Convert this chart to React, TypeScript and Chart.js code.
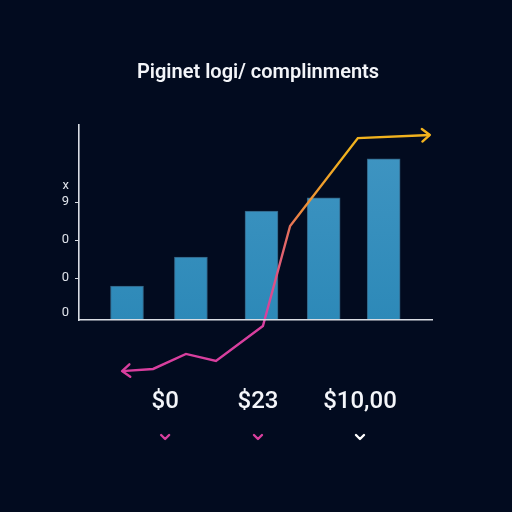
import React, { useEffect, useRef } from "react";
import { Chart, registerables } from "chart.js";

Chart.register(...registerables);

// ---- data ----
const chartTitle = "Piginet logi/ complinments";

const barX = [13.6, 31.7, 51.7, 69.3, 86.3];
const barValues = [17.4, 32.3, 55.9, 62.6, 82.6];

const trendX = [12.2, 21.0, 30.3, 38.8, 52.1, 59.8, 79.0, 99.4];
const trendY = [-26.2, -25.1, -17.4, -21.0, -3.1, 48.2, 93.3, 94.9];

const yTickValues = [3.6, 21.5, 41, 60.5, 68.7];
const yTickLabels = ["0", "0", "0", "9", "x"];

const priceTickValues = [24.4, 50.7, 79.6];
const priceLabels = ["$0", "$23", "$10,00"];

// ---- styles ----
const BG = "#020b1f";
const PINK = "#d83f9e";
const ORANGE = "#ec8a3a";
const GOLD = "#f1b21e";
const AXIS = "#d9dde4";
const chevronColors = [PINK, PINK, "#ffffff"];

const decorations = {
  id: "decorations",
  afterDatasetsDraw(chart: any) {
    const ctx = chart.ctx as CanvasRenderingContext2D;
    const pts = chart.getDatasetMeta(0).data;
    const n = pts.length;

    const head = (tip: any, from: any, color: string) => {
      const ang = Math.atan2(tip.y - from.y, tip.x - from.x);
      const len = 10;
      const spread = 0.68;
      ctx.save();
      ctx.strokeStyle = color;
      ctx.lineWidth = 2.4;
      ctx.lineCap = "round";
      ctx.lineJoin = "round";
      ctx.beginPath();
      ctx.moveTo(tip.x - len * Math.cos(ang - spread), tip.y - len * Math.sin(ang - spread));
      ctx.lineTo(tip.x, tip.y);
      ctx.lineTo(tip.x - len * Math.cos(ang + spread), tip.y - len * Math.sin(ang + spread));
      ctx.stroke();
      ctx.restore();
    };
    head(pts[0], pts[1], PINK);
    head(pts[n - 1], pts[n - 2], GOLD);

    // small chevrons under the price labels
    const xs = chart.scales.x;
    const cy = xs.top + 117;
    priceTickValues.forEach((v, i) => {
      const px = xs.getPixelForValue(v);
      ctx.save();
      ctx.strokeStyle = chevronColors[i];
      ctx.lineWidth = 2.4;
      ctx.lineCap = "round";
      ctx.lineJoin = "round";
      ctx.beginPath();
      ctx.moveTo(px - 4, cy - 2);
      ctx.lineTo(px, cy + 2);
      ctx.lineTo(px + 4, cy - 2);
      ctx.stroke();
      ctx.restore();
    });
  },
};

export default function App() {
  const canvasRef = useRef<HTMLCanvasElement | null>(null);

  useEffect(() => {
    if (!canvasRef.current) return;
    Chart.defaults.font.family = "Roboto, 'Liberation Sans', sans-serif";

    const trendColor = (c: any) => {
      const chart = c.chart;
      const area = chart.chartArea;
      if (!area) return PINK;
      const g = chart.ctx.createLinearGradient(area.left, 0, area.right, 0);
      g.addColorStop(0, PINK);
      g.addColorStop(0.53, PINK);
      g.addColorStop(0.63, ORANGE);
      g.addColorStop(0.75, GOLD);
      g.addColorStop(1, GOLD);
      return g;
    };

    // bars are slightly lighter toward the top
    const barFill = (c: any) => {
      const chart = c.chart;
      const area = chart.chartArea;
      if (!area) return "#3590bf";
      const g = chart.ctx.createLinearGradient(0, area.top, 0, area.bottom);
      g.addColorStop(0, "#4196c3");
      g.addColorStop(1, "#2d89b8");
      return g;
    };

    const chart = new Chart(canvasRef.current, {
      type: "bar",
      data: {
        datasets: [
          {
            type: "line",
            data: trendX.map((x, i) => ({ x, y: trendY[i] })),
            borderColor: trendColor,
            borderWidth: 2.4,
            pointRadius: 0,
            tension: 0,
            clip: false,
            order: 0,
          } as any,
          {
            type: "bar",
            data: barX.map((x, i) => ({ x, y: barValues[i] })),
            backgroundColor: barFill,
            borderColor: "rgba(90,168,210,0.55)",
            borderWidth: 1,
            barThickness: 33,
            order: 1,
          } as any,
        ],
      },
      options: {
        animation: false,
        responsive: false,
        events: [],
        layout: { padding: { left: 4, right: 0, top: 0, bottom: 0 } },
        plugins: {
          legend: { display: false },
          tooltip: { enabled: false },
          title: {
            display: true,
            text: chartTitle,
            color: "#f3f5f9",
            font: { size: 20, weight: "600" as any, lineHeight: 1.2 },
            padding: { top: 61, bottom: 40 },
          },
        },
        scales: {
          x: {
            type: "linear",
            offset: false,
            min: 0,
            max: 100,
            grid: { display: false, drawTicks: false },
            border: { display: true, color: AXIS, width: 1.6, z: 1 } as any,
            afterBuildTicks: (s: any) => {
              s.ticks = priceTickValues.map((value) => ({ value }));
            },
            afterFit: (s: any) => {
              s.height = 192;
            },
            ticks: {
              autoSkip: false,
              maxRotation: 0,
              padding: 68,
              color: "#f4f6fa",
              font: { size: 24, weight: "500" as any },
              callback: (_v: any, i: number) => priceLabels[i],
            },
          },
          y: {
            type: "linear",
            min: 0,
            max: 100,
            grid: {
              drawOnChartArea: false,
              drawTicks: true,
              tickLength: 4,
              color: (c: any) => (c.index >= 1 && c.index <= 3 ? AXIS : "transparent"),
            },
            border: { display: true, color: AXIS, width: 1.6 },
            afterBuildTicks: (s: any) => {
              s.ticks = yTickValues.map((value) => ({ value }));
            },
            afterFit: (s: any) => {
              s.width = 75;
            },
            ticks: {
              autoSkip: false,
              padding: 6,
              color: "#dfe3ea",
              font: { size: 13 },
              callback: (_v: any, i: number) => yTickLabels[i],
            },
          },
          // empty right-hand gutter so the title stays centred on the page
          gutter: {
            type: "linear",
            position: "right",
            display: true,
            grid: { display: false },
            border: { display: false },
            ticks: { display: false },
            afterFit: (s: any) => {
              s.width = 80;
            },
          },
        },
      },
      plugins: [decorations],
    });

    return () => chart.destroy();
  }, []);

  return (
    <div
      style={{
        position: "fixed",
        left: 0,
        top: 0,
        width: 512,
        height: 512,
        background: BG,
      }}
    >
      <canvas ref={canvasRef} width={512} height={512} style={{ display: "block" }} />
    </div>
  );
}
